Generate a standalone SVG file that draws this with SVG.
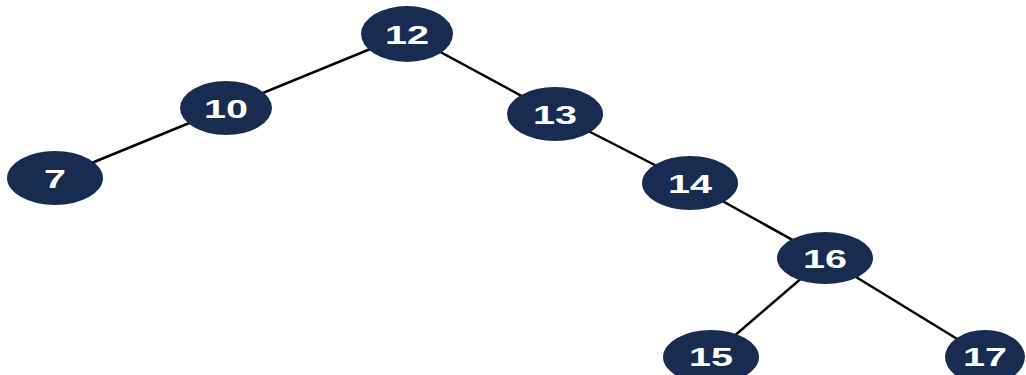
<svg xmlns="http://www.w3.org/2000/svg" width="1026" height="375" viewBox="0 0 1026 375">
<style>
.edge{stroke:#000;stroke-width:2.5;fill:none}
.node ellipse{fill:#182b50}
.node text{fill:#fff;font-family:"Liberation Sans",Arial,sans-serif;font-weight:bold;font-size:26px;text-anchor:middle}
</style>
<rect width="1026" height="375" fill="#fff"/>
<g id="connectors">
<line class="edge" x1="407" y1="34" x2="226" y2="108"/>
<line class="edge" x1="226" y1="108" x2="55" y2="178"/>
<line class="edge" x1="407" y1="34" x2="555" y2="114"/>
<line class="edge" x1="555" y1="114" x2="690" y2="183"/>
<line class="edge" x1="690" y1="183" x2="825" y2="258"/>
<line class="edge" x1="825" y1="258" x2="711" y2="356"/>
<line class="edge" x1="825" y1="258" x2="985" y2="356"/>
</g>
<g id="n12" class="node"><ellipse cx="407" cy="34" rx="46" ry="28"/><text x="407" y="44" textLength="44" lengthAdjust="spacingAndGlyphs">12</text></g>
<g id="n10" class="node"><ellipse cx="226" cy="108" rx="46" ry="27"/><text x="226" y="118" textLength="44" lengthAdjust="spacingAndGlyphs">10</text></g>
<g id="n7" class="node"><ellipse cx="55" cy="178" rx="48" ry="27"/><text x="55" y="188" textLength="22" lengthAdjust="spacingAndGlyphs">7</text></g>
<g id="n13" class="node"><ellipse cx="555" cy="114" rx="48" ry="27"/><text x="555" y="124" textLength="44" lengthAdjust="spacingAndGlyphs">13</text></g>
<g id="n14" class="node"><ellipse cx="690" cy="183" rx="48" ry="27"/><text x="690" y="193" textLength="44" lengthAdjust="spacingAndGlyphs">14</text></g>
<g id="n16" class="node"><ellipse cx="825" cy="258" rx="48" ry="26"/><text x="825" y="268" textLength="44" lengthAdjust="spacingAndGlyphs">16</text></g>
<g id="n15" class="node"><ellipse cx="711" cy="357" rx="48" ry="27"/><text x="711" y="366" textLength="44" lengthAdjust="spacingAndGlyphs">15</text></g>
<g id="n17" class="node"><ellipse cx="985" cy="357" rx="40" ry="27"/><text x="985" y="366" textLength="44" lengthAdjust="spacingAndGlyphs">17</text></g>
</svg>
